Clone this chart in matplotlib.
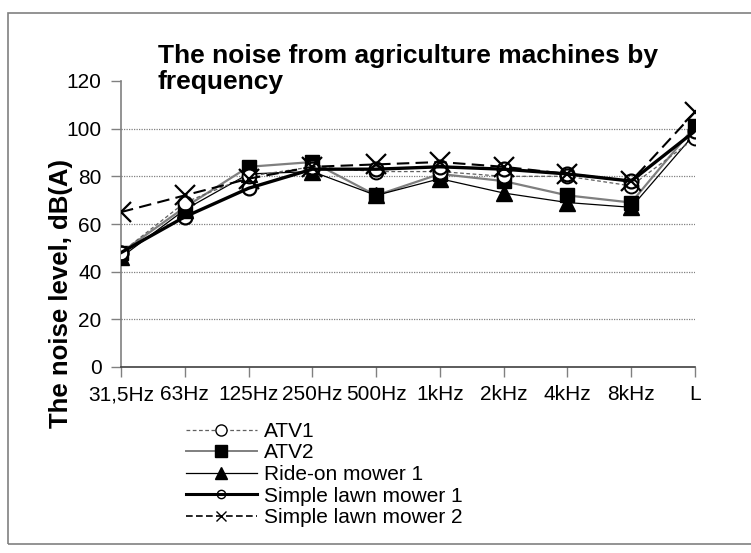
import matplotlib
matplotlib.use("Agg")
import matplotlib.pyplot as plt
from matplotlib.lines import Line2D
from matplotlib.patches import Rectangle

plt.rcParams['font.family'] = ['Liberation Sans', 'DejaVu Sans']

# frequency bands
bands = ['31,5Hz', '63Hz', '125Hz', '250Hz', '500Hz', '1kHz', '2kHz', '4kHz', '8kHz', 'L']

# noise level, dB(A)
atv1 = [48, 69, 80, 84, 82, 82, 80, 80, 76, 96]
atv2 = [48, 67, 84, 86, 72, 81, 78, 72, 69, 101]
ride_on1 = [46, 66, 81, 82, 72, 79, 73, 69, 67, 98]
lawn1 = [48, 63, 75, 83, 83, 84, 83, 81, 78, 99]
lawn2 = [65, 72, 79, 84, 85, 86, 84, 81, 78, 107]

labels = ['ATV1', 'ATV2', 'Ride-on mower 1', 'Simple lawn mower 1', 'Simple lawn mower 2']

fig = plt.figure(figsize=(7.51, 5.53), dpi=100)
ax = fig.add_axes([121/751, 1-367/553, (695-121)/751, (367-81)/553])

x = list(range(len(bands)))

# grid lines (dotted, no line at the top)
for g in [20, 40, 60, 80, 100]:
    ax.axhline(g, color='#808080', lw=0.9, ls=(0, (1, 1)), zorder=1)

ax.plot(x, atv2, color='#7f7f7f', lw=1.6, marker='s', ms=10, mfc='black', mec='black', zorder=3)
ax.plot(x, ride_on1, color='black', lw=0.9, marker='^', ms=11, mfc='black', mec='black', zorder=3)
ax.plot(x, atv1, color='#606060', lw=0.9, ls=(0, (3, 2)), marker='o', ms=10, mfc='white', mec='black', mew=1.4, zorder=4)
ax.plot(x, lawn1, color='black', lw=2.4, marker='o', ms=10, mfc='none', mec='black', mew=1.6, zorder=4)
ax.plot(x, lawn2, color='black', lw=1.5, ls=(0, (6, 3)), marker='x', ms=14, mec='black', mew=1.6, zorder=5)

ax.set_xlim(0, 9)
ax.set_ylim(0, 120)
ax.set_yticks(range(0, 121, 20))
ax.set_xticks(x)
ax.set_xticklabels(bands)
ax.tick_params(axis='both', labelsize=15, colors='#808080', labelcolor='black', length=7, width=1)
ax.tick_params(axis='y', pad=7)
ax.tick_params(axis='x', pad=6)

for s in ['top', 'right']:
    ax.spines[s].set_visible(False)
ax.spines['left'].set_color('#808080')
ax.spines['left'].set_linewidth(1.2)
ax.spines['bottom'].set_color('#404040')
ax.spines['bottom'].set_linewidth(1.2)

fig.text(158/751, 1-44/553, 'The noise from agriculture machines by\nfrequency',
         fontsize=19, fontweight='bold', ha='left', va='top', linespacing=1.12)

fig.text(61/751, 1-294/553, 'The noise level, dB(A)', fontsize=18.5, fontweight='bold',
         rotation=90, ha='center', va='center')

handles = [
    Line2D([], [], color='#606060', lw=0.9, ls=(0, (3, 2)), marker='o', ms=8, mfc='white', mec='black'),
    Line2D([], [], color='#7f7f7f', lw=1.4, marker='s', ms=8, mfc='black', mec='black'),
    Line2D([], [], color='black', lw=0.9, marker='^', ms=8, mfc='black', mec='black'),
    Line2D([], [], color='black', lw=2.2, marker='o', ms=6, mfc='none', mec='black'),
    Line2D([], [], color='black', lw=1.2, ls=(0, (4, 2)), marker='x', ms=7, mec='black'),
]
fig.legend(handles, labels, loc='upper left', bbox_to_anchor=(186/751, 1-422/553),
           frameon=False, fontsize=15, handlelength=3.4, handletextpad=0.35,
           labelspacing=0.12, borderpad=0, borderaxespad=0)

# outer chart border
fig.patches.append(Rectangle((8/751, 1-544/553), 1.0, (544-13)/553, transform=fig.transFigure,
                             fill=False, edgecolor='#808080', lw=1.2))

fig.savefig('out.png', dpi=100)
